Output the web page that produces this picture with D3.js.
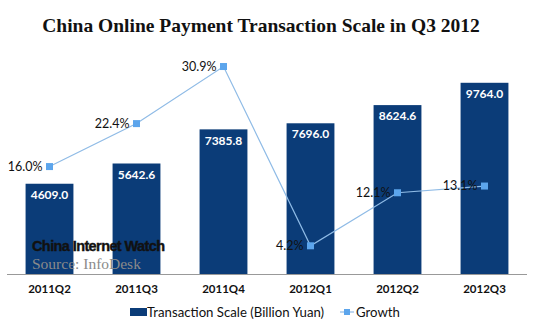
<!DOCTYPE html>
<html>
<head>
<meta charset="utf-8">
<script src="https://cdn.jsdelivr.net/npm/d3@7"></script>
<style>
  html, body { margin: 0; padding: 0; background: #fff; }
  svg { display: block; }
</style>
</head>
<body>
<svg id="chart" width="533" height="332"></svg>
<script>
// Quarterly online payment volume and its quarter-on-quarter growth
const quarters = ["2011Q2", "2011Q3", "2011Q4", "2012Q1", "2012Q2", "2012Q3"];
const scaleValues = [4609.0, 5642.6, 7385.8, 7696.0, 8624.6, 9764.0];
const growthValues = [16.0, 22.4, 30.9, 4.2, 12.1, 13.1];

const titleText = "China Online Payment Transaction Scale in Q3 2012";
const barSeriesName = "Transaction Scale (Billion Yuan)";
const lineSeriesName = "Growth";

const barColor = "#0b3c78";
const lineColor = "#8fbbe6";
const markerColor = "#5ca5ec";
const labelFont = "'Lato', 'DejaVu Sans', sans-serif";

const svg = d3.select("#chart");

const x = d3.scaleBand().domain(quarters).range([6, 528]).paddingInner(0.45).paddingOuter(0.225);
const yBar = d3.scaleLinear().domain([0, 12000]).range([274, 39]);
const yLine = d3.scaleLinear().domain([0, 35]).range([274, 39]);

// Title
svg.append("text")
  .attr("x", 261).attr("y", 32)
  .attr("text-anchor", "middle")
  .attr("font-family", "'Liberation Serif', 'Times New Roman', serif")
  .attr("font-weight", "bold")
  .attr("font-size", 19.5)
  .attr("fill", "#111")
  .text(titleText);

// Bars
svg.append("g").selectAll("rect")
  .data(quarters)
  .join("rect")
  .attr("x", d => x(d))
  .attr("width", x.bandwidth())
  .attr("y", (d, i) => yBar(scaleValues[i]))
  .attr("height", (d, i) => yBar(0) - yBar(scaleValues[i]))
  .attr("fill", barColor);

// Bar value labels
svg.append("g").selectAll("text")
  .data(quarters)
  .join("text")
  .attr("x", d => x(d) + x.bandwidth() / 2)
  .attr("y", (d, i) => yBar(scaleValues[i]) + 11)
  .attr("dy", "0.35em")
  .attr("text-anchor", "middle")
  .attr("font-family", labelFont)
  .attr("font-weight", "bold")
  .attr("font-size", 12)
  .attr("fill", "#fff")
  .text((d, i) => scaleValues[i].toFixed(1));

// Watermark and source
svg.append("text")
  .attr("x", 32).attr("y", 251)
  .attr("font-family", "'Liberation Sans Narrow', 'Arial Narrow', 'Liberation Sans', sans-serif")
  .attr("font-stretch", "condensed")
  .attr("font-weight", "bold")
  .attr("font-size", 14.5)
  .attr("letter-spacing", -0.6)
  .attr("stroke", "#111").attr("stroke-width", 0.4)
  .attr("fill", "#111")
  .text("China Internet Watch");
svg.append("text")
  .attr("x", 32).attr("y", 269)
  .attr("font-family", "'Liberation Serif', 'Times New Roman', serif")
  .attr("font-size", 15.5)
  .attr("fill", "#8a8a8a")
  .text("Source: InfoDesk");

// Baseline axis
const xAxis = svg.append("g")
  .attr("transform", "translate(0,274)")
  .call(d3.axisBottom(x).tickSize(0).tickPadding(11));
xAxis.select(".domain").attr("stroke", "#999").attr("d", "M7,0.5H527");
xAxis.selectAll("text")
  .attr("font-family", labelFont)
  .attr("font-weight", "bold")
  .attr("font-size", 11.5)
  .attr("fill", "#111");

// Growth line
const line = d3.line()
  .x((d, i) => x(quarters[i]) + x.bandwidth() / 2)
  .y(d => yLine(d));
svg.append("path")
  .datum(growthValues)
  .attr("d", line)
  .attr("fill", "none")
  .attr("stroke", lineColor)
  .attr("stroke-width", 1.2);

svg.append("g").selectAll("rect")
  .data(growthValues)
  .join("rect")
  .attr("x", (d, i) => x(quarters[i]) + x.bandwidth() / 2 - 3.5)
  .attr("y", d => yLine(d) - 3.5)
  .attr("width", 7).attr("height", 7)
  .attr("fill", markerColor);

svg.append("g").selectAll("text")
  .data(growthValues)
  .join("text")
  .attr("x", (d, i) => x(quarters[i]) + x.bandwidth() / 2 - 7)
  .attr("y", d => yLine(d))
  .attr("dy", "0.35em")
  .attr("text-anchor", "end")
  .attr("font-family", labelFont)
  .attr("font-size", 12.5)
  .attr("fill", "#111")
  .text(d => d.toFixed(1) + "%");

// Legend
const legend = svg.append("g").attr("font-family", labelFont).attr("font-size", 13.2).attr("fill", "#111");
legend.append("rect").attr("x", 130).attr("y", 308).attr("width", 17).attr("height", 8).attr("fill", barColor);
legend.append("text").attr("x", 147).attr("y", 312).attr("dy", "0.35em").text(barSeriesName);
legend.append("line").attr("x1", 340).attr("x2", 354).attr("y1", 312).attr("y2", 312)
  .attr("stroke", lineColor).attr("stroke-width", 1.2);
legend.append("rect").attr("x", 344).attr("y", 309).attr("width", 6).attr("height", 6).attr("fill", markerColor);
legend.append("text").attr("x", 356).attr("y", 312).attr("dy", "0.35em").text(lineSeriesName);
</script>
</body>
</html>
